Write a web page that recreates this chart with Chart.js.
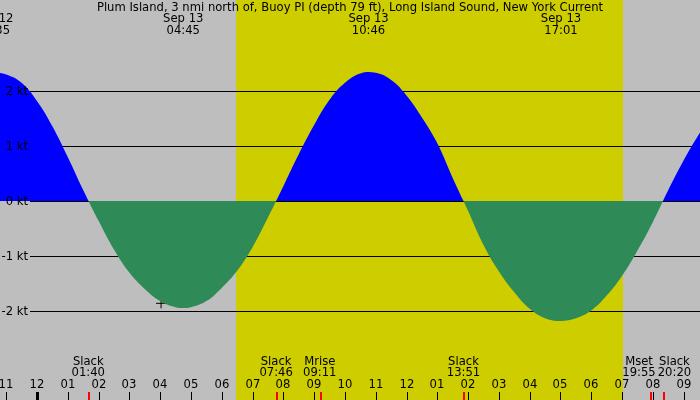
<!DOCTYPE html>
<html>
<head>
<meta charset="utf-8">
<script src="https://cdn.jsdelivr.net/npm/chart.js@4.4.0/dist/chart.umd.min.js"></script>
<style>
  html, body { margin: 0; padding: 0; background: #bebebe; }
  canvas { display: block; }
</style>
</head>
<body>
<canvas id="tide" width="700" height="400"></canvas>
<script>
// hours after midnight, Sep 13 (negative = Sep 12 evening), every half hour
var hours = [-1.5, -1.0, -0.5, 0, 0.5, 1.0, 1.5, 2.0, 2.5, 3.0, 3.5, 4.0, 4.5, 5.0, 5.5, 6.0,
  6.5, 7.0, 7.5, 8.0, 8.5, 9.0, 9.5, 10.0, 10.5, 11.0, 11.5, 12.0, 12.5, 13.0, 13.5, 14.0,
  14.5, 15.0, 15.5, 16.0, 16.5, 17.0, 17.5, 18.0, 18.5, 19.0, 19.5, 20.0, 20.5, 21.0, 21.5, 22.0];
// current speed in knots (+ flood, - ebb)
var knots = [2.35, 2.30, 2.15, 1.82, 1.36, 0.80, 0.20, -0.36, -0.88, -1.30, -1.60, -1.82, -1.93, -1.93, -1.82, -1.58,
  -1.27, -0.84, -0.30, 0.27, 0.85, 1.38, 1.84, 2.15, 2.32, 2.33, 2.20, 1.92, 1.52, 1.05, 0.42, -0.18,
  -0.80, -1.28, -1.66, -1.96, -2.13, -2.18, -2.13, -1.99, -1.72, -1.36, -0.90, -0.38, 0.20, 0.74, 1.22, 1.65];

var yTicks = [2, 1, 0, -1, -2];
var hourTicks = [-1, 0, 1, 2, 3, 4, 5, 6, 7, 8, 9, 10, 11, 12, 13, 14, 15, 16, 17, 18, 19, 20, 21];

var maxTimes = [-1.417, 4.75, 10.767, 17.017];
var maxDates = ['Sep 12', 'Sep 13', 'Sep 13', 'Sep 13'];
var maxLabels = ['22:35', '04:45', '10:46', '17:01'];

var eventTimes = [1.667, 7.767, 9.183, 13.85, 19.917, 20.333];
var eventNames = ['Slack', 'Slack', 'Mrise', 'Slack', 'Mset', 'Slack'];
var eventLabels = ['01:40', '07:46', '09:11', '13:51', '19:55', '20:20'];

var sunrise = 6.47, sunset = 19.02;
var nowTime = [4.03], nowKnots = [-1.86];

var title = 'Plum Island, 3 nmi north of, Buoy PI (depth 79 ft), Long Island Sound, New York Current';
var FONT = '11.6px "DejaVu Sans", sans-serif';

function pad(n) { return (n < 10 ? '0' : '') + n; }

var tidePlugin = {
  id: 'tide',
  beforeDraw: function(chart) {
    var c = chart.ctx, x = chart.scales.x;
    c.save();
    c.fillStyle = '#bebebe';
    c.fillRect(0, 0, chart.width, chart.height);
    var x0 = Math.round(x.getPixelForValue(sunrise)), x1 = Math.round(x.getPixelForValue(sunset));
    c.fillStyle = '#cdcd00';
    c.fillRect(x0, 0, x1 - x0, chart.height);
    c.restore();
  },
  beforeDatasetsDraw: function(chart) {
    var c = chart.ctx, y = chart.scales.y;
    c.save();
    c.strokeStyle = '#000';
    c.lineWidth = 1;
    yTicks.forEach(function(v) {
      var py = Math.round(y.getPixelForValue(v)) + 0.5;
      c.beginPath();
      c.moveTo(30, py);
      c.lineTo(chart.width, py);
      c.stroke();
    });
    c.restore();
  },
  afterDraw: function(chart) {
    var c = chart.ctx, x = chart.scales.x, y = chart.scales.y, H = chart.height;
    c.save();
    c.font = FONT;
    c.fillStyle = '#000';
    c.textBaseline = 'middle';

    // y labels
    c.textAlign = 'right';
    yTicks.forEach(function(v) {
      c.fillText(v + ' kt', 28, Math.round(y.getPixelForValue(v)) + 1);
    });

    // title + max/min times
    c.textAlign = 'center';
    c.fillText(title, 350, 8);
    maxTimes.forEach(function(t, i) {
      var px = x.getPixelForValue(t);
      c.fillText(maxDates[i], px, 19);
      c.fillText(maxLabels[i], px, 31);
    });

    // hour ticks
    hourTicks.forEach(function(h) {
      var px = Math.round(x.getPixelForValue(h));
      var hh = ((h + 24) % 24) % 12 || 12;
      c.fillText(pad(hh), px, 385);
      if (h % 24 === 0) c.fillRect(px - 1, 392, 3, H - 392);
      else c.fillRect(px, 392, 1, H - 392);
    });

    // event ticks
    c.fillStyle = '#ff0000';
    eventTimes.forEach(function(t) {
      c.fillRect(Math.round(x.getPixelForValue(t)), 392, 2, H - 392);
    });

    // event labels, pushed apart if they collide
    c.fillStyle = '#000';
    var boxes = eventTimes.map(function(t, i) {
      var w = Math.max(c.measureText(eventNames[i]).width, c.measureText(eventLabels[i]).width);
      return { cx: x.getPixelForValue(t), w: w };
    });
    for (var i = 1; i < boxes.length; i++) {
      var a = boxes[i - 1], b = boxes[i];
      var need = (a.w + b.w) / 2 + 2, gap = b.cx - a.cx;
      if (gap < need) { a.cx -= (need - gap) / 2; b.cx += (need - gap) / 2; }
    }
    boxes.forEach(function(bx, i) {
      c.fillText(eventNames[i], bx.cx, 362);
      c.fillText(eventLabels[i], bx.cx, 373);
    });
    c.restore();
  }
};

var ctx = document.getElementById('tide').getContext('2d');
var chart = new Chart(ctx, {
  type: 'line',
  data: {
    datasets: [{
      data: hours.map(function(h, i) { return { x: h, y: knots[i] }; }),
      borderWidth: 0,
      borderColor: 'rgba(0,0,0,0)',
      pointRadius: 0,
      tension: 0.4,
      fill: { target: 'origin', above: '#0000ff', below: '#2e8b57' }
    }, {
      type: 'scatter',
      data: nowTime.map(function(h, i) { return { x: h, y: nowKnots[i] }; }),
      pointStyle: 'cross',
      pointRadius: 5,
      borderColor: '#000',
      borderWidth: 1
    }]
  },
  options: {
    responsive: false,
    devicePixelRatio: 1,
    animation: false,
    layout: { padding: 0, autoPadding: false },
    plugins: { legend: { display: false }, tooltip: { enabled: false } },
    scales: {
      x: { type: 'linear', min: -1.2, max: 21.53, display: false },
      y: { min: -3.618, max: 3.655, display: false }
    }
  },
  plugins: [tidePlugin]
});
</script>
</body>
</html>
